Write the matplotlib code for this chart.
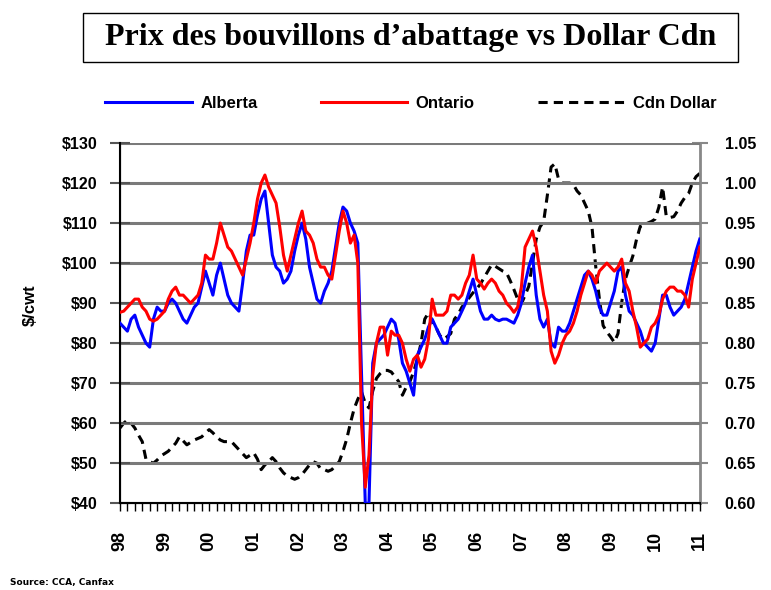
import numpy as np
import pandas as pd
import matplotlib
matplotlib.use("Agg")
import matplotlib.pyplot as plt
from matplotlib.patches import Rectangle
from matplotlib.ticker import MultipleLocator

# monthly data, Jan 1998 - Jan 2011
alberta = [85, 84, 83, 86, 87, 84, 82, 80, 79, 86, 89, 88,
           88, 90, 91, 90, 88, 86, 85, 87, 89, 90, 94, 98,
           95, 92, 97, 100, 96, 92, 90, 89, 88, 95, 103, 107,
           107, 112, 116, 118, 110, 102, 99, 98, 95, 96, 98, 103,
           107, 110, 106, 99, 95, 91, 90, 93, 95, 98, 104, 110,
           114, 113, 110, 108, 105, 72, 40, 40, 75, 80, 81, 82,
           84, 86, 85, 81, 75, 73, 70, 67, 77, 79, 81, 84,
           86, 84, 82, 80, 80, 84, 85, 86, 88, 90, 93, 96,
           92, 88, 86, 86, 87, 86, 85.6, 86, 86, 85.5, 85, 87,
           90, 95, 99, 102, 92, 86, 84, 86, 80, 79, 84, 83,
           83, 85, 88, 91, 94, 97, 98, 96, 93, 89, 87, 87,
           90, 93, 98, 99, 92, 88, 87, 85, 83, 80, 79, 78,
           80, 86, 92, 92, 89, 87, 88, 89, 91, 95, 99, 103,
           106]
ontario = [87.7, 88, 89, 90, 91, 91, 89, 88, 86, 85.5, 86, 87,
           88, 91, 93, 94, 92, 92, 91, 90, 91, 92, 95, 102,
           101, 101, 105, 110, 107, 104, 103, 101, 99, 97, 101, 105,
           110, 116, 120, 122, 119, 117, 115, 109, 102, 98, 102, 106,
           110, 113, 108, 107, 105, 101, 99, 99, 97, 96, 102, 108,
           113, 110, 105, 107, 100, 60, 44, 52, 72, 80, 84, 84,
           77, 83, 82, 82, 80, 76, 73, 76, 77, 74, 76, 81,
           91, 87, 87, 87, 88, 92, 92, 91, 92, 95, 97, 102,
           96, 95, 93.5, 95, 96, 95, 93, 92, 90, 89, 87.7, 89,
           94, 104, 106, 108, 104, 98, 92, 88, 78, 75, 77, 80,
           82, 83, 85, 88, 92, 95, 98, 97, 95, 98, 99, 100,
           99, 98, 99, 101, 95, 93, 88, 84, 79, 80, 81, 84,
           85, 87, 91, 93, 94, 94, 93, 93, 92, 89, 96, 100,
           104]
cdn_dollar = [0.694, 0.700, 0.704, 0.700, 0.694, 0.685, 0.677, 0.655, 0.652, 0.650, 0.654, 0.659,
              0.662, 0.665, 0.670, 0.675, 0.683, 0.678, 0.673, 0.676, 0.679, 0.681, 0.683, 0.688,
              0.692, 0.688, 0.683, 0.679, 0.677, 0.677, 0.677, 0.672, 0.667, 0.662, 0.657, 0.660,
              0.663, 0.655, 0.642, 0.648, 0.652, 0.657, 0.652, 0.644, 0.638, 0.634, 0.632, 0.630,
              0.632, 0.636, 0.642, 0.648, 0.652, 0.650, 0.643, 0.642, 0.640, 0.642, 0.647, 0.652,
              0.665, 0.680, 0.700, 0.718, 0.730, 0.739, 0.725, 0.719, 0.740, 0.756, 0.762, 0.766,
              0.766, 0.764, 0.758, 0.752, 0.735, 0.745, 0.752, 0.764, 0.780, 0.800, 0.830, 0.838,
              0.828, 0.820, 0.810, 0.805, 0.808, 0.812, 0.830, 0.836, 0.845, 0.851, 0.857, 0.863,
              0.868, 0.874, 0.882, 0.890, 0.898, 0.896, 0.893, 0.890, 0.888, 0.878, 0.867, 0.855,
              0.849, 0.860, 0.871, 0.900, 0.930, 0.945, 0.952, 0.985, 1.020, 1.024, 1.005, 1.000,
              1.000, 1.000, 0.998, 0.990, 0.985, 0.975, 0.965, 0.945, 0.896, 0.855, 0.822, 0.814,
              0.808, 0.801, 0.812, 0.851, 0.880, 0.895, 0.909, 0.930, 0.946, 0.948, 0.950, 0.952,
              0.955, 0.970, 0.995, 0.958, 0.957, 0.958, 0.965, 0.975, 0.982, 0.987, 1.000, 1.008,
              1.012]
year_labels = ["98", "99", "00", "01", "02", "03", "04", "05", "06", "07", "08", "09", "10", "11"]

months = np.arange(len(alberta))

bold = dict(fontweight="bold", family=["Liberation Sans Narrow", "Liberation Sans", "DejaVu Sans"])

fig = plt.figure(figsize=(7.71, 5.90), dpi=100)

# boxed title
fig.patches.append(Rectangle((0.108, 0.895), 0.849, 0.083, transform=fig.transFigure,
                             fill=False, edgecolor="black", linewidth=1))
fig.text(0.532, 0.936, "Prix des bouvillons d\u2019abattage vs Dollar Cdn",
         ha="center", va="center", fontsize=23, fontweight="bold", family="Liberation Serif")

ax = fig.add_axes([0.1556, 0.147, 0.752, 0.6106])
ax2 = ax.twinx()

l1, = ax.plot(months, alberta, color="#0000ff", lw=2.2, zorder=3)
l2, = ax.plot(months, ontario, color="#ff0000", lw=2.2, zorder=4)
l3, = ax2.plot(months, cdn_dollar, color="black", lw=2.2, ls=(0, (3, 2)))

ax.set_xlim(0, len(alberta) - 1)
ax.set_ylim(40, 130)
ax2.set_ylim(0.60, 1.05)
ax.set_zorder(ax2.get_zorder() + 1)
ax.patch.set_visible(False)

ax.yaxis.set_major_locator(MultipleLocator(10))
ax.set_yticklabels([f"${v:.0f}" for v in ax.get_yticks()], **bold, fontsize=11.5)
ax2.yaxis.set_major_locator(MultipleLocator(0.05))
ax2.set_yticklabels([f"{v:.2f}" for v in ax2.get_yticks()], **bold, fontsize=11.5)

ax.grid(axis="y", color="#7a7a7a", lw=2.2)
ax.set_xticks(np.arange(0, len(alberta), 12))
ax.set_xticklabels(year_labels, rotation=90, **bold, fontsize=13)
ax.xaxis.set_minor_locator(MultipleLocator(2))
ax.tick_params(axis="x", which="both", length=6, width=1, pad=14)
ax.tick_params(axis="y", direction="inout", length=14, width=1.5, color="#555555", pad=9)
ax2.tick_params(axis="y", direction="inout", length=12, width=1.5, color="#888888", pad=12)

for a in (ax, ax2):
    a.spines["top"].set_visible(False)
ax.spines["left"].set_linewidth(1.5)
ax.spines["bottom"].set_linewidth(1.5)
ax2.spines["right"].set_color("#888888")
ax2.spines["right"].set_linewidth(2)
ax.spines["right"].set_visible(False)

fig.text(0.039, 0.482, "$/cwt", rotation=90, ha="center", va="center", fontsize=12, **bold)

fig.legend([l1, l2, l3], ["Alberta", "Ontario", "Cdn Dollar"], loc="center",
           bbox_to_anchor=(0.533, 0.825), ncol=3, frameon=False, handlelength=5.2,
           columnspacing=3.8, handletextpad=0.5,
           prop=dict(weight="bold", family="Liberation Sans", size=12))

fig.text(0.013, 0.008, "Source: CCA, Canfax", fontsize=6.5, fontweight="bold")

fig.savefig("out.png", dpi=100)
